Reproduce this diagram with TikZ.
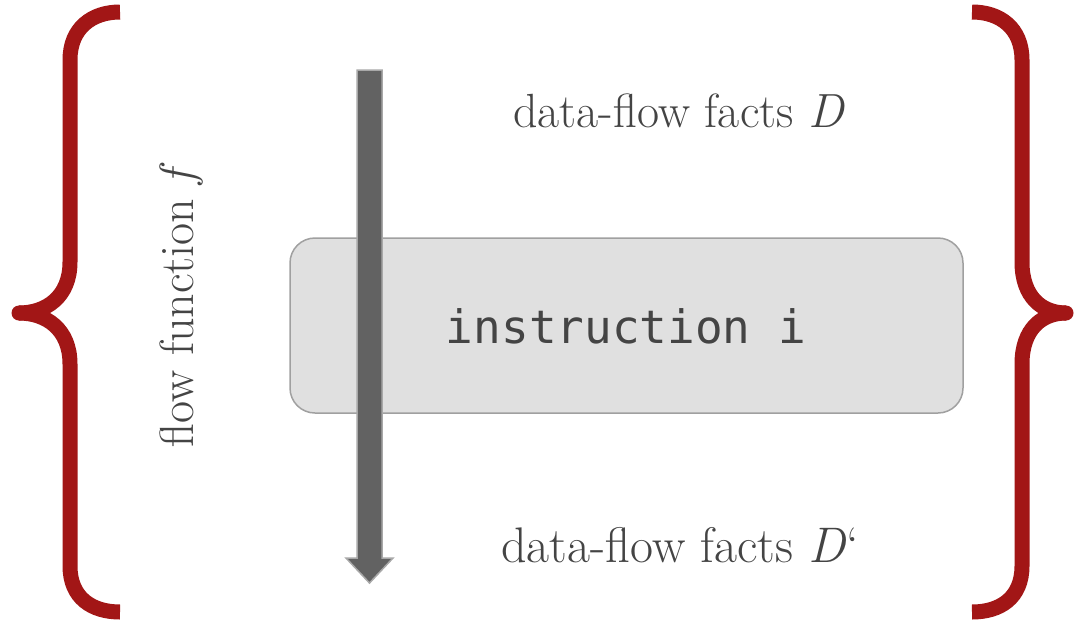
\documentclass[tikz,border=0pt]{standalone}
\usepackage{fontspec}
\newfontfamily\codefont{DejaVu Sans Mono}
\definecolor{bracered}{RGB}{162,22,22}
\definecolor{txtgray}{RGB}{68,68,68}
\definecolor{boxfill}{RGB}{224,224,224}
\definecolor{boxline}{RGB}{160,160,160}
\definecolor{arrowfill}{RGB}{98,98,98}
\definecolor{arrowline}{RGB}{168,168,168}
\tikzset{
  bracestyle/.style={draw=bracered, line width=15pt, line cap=butt},
  factlabel/.style={text=txtgray, inner sep=0pt, anchor=base},
  instrbox/.style={draw=boxline, fill=boxfill, line width=1.5pt, rounded corners=25pt, minimum width=673pt, minimum height=175pt, inner sep=0pt},
  blockarrow/.style={fill=arrowfill, draw=arrowline, line width=1.5pt, line join=miter}
}
\begin{document}
\begin{tikzpicture}[x=1pt,y=-1pt]
\fill[white] (0,0) rectangle (1074,627);
\useasboundingbox (0,0) rectangle (1074,627);

% left brace
\draw[bracestyle] (120,12) .. controls (92,12) and (70,28) .. (70,60) -- (70,262)
  .. controls (70,297) and (46,313) .. (19,313);
\draw[bracestyle] (19,313) .. controls (46,313) and (70,329) .. (70,364) -- (70,566)
  .. controls (70,598) and (92,612) .. (120,612);
\fill[bracered] (19,313) circle (7.5pt);

% right brace
\draw[bracestyle] (972,12) .. controls (1000,12) and (1022,28) .. (1022,60) -- (1022,262)
  .. controls (1022,297) and (1042,313) .. (1066,313);
\draw[bracestyle] (1066,313) .. controls (1042,313) and (1022,329) .. (1022,364) -- (1022,566)
  .. controls (1022,598) and (1000,612) .. (972,612);
\fill[bracered] (1066,313) circle (7.5pt);

% instruction box
\node[instrbox] (instr) at (626.5,325.5) {};
\node[anchor=base, inner sep=0pt, text=txtgray] (instrtext) at (626,343)
  {\codefont\fontsize{46}{50}\selectfont instruction i};

% block arrow
\draw[blockarrow] (357,70) -- (382,70) -- (382,558) -- (393,558) -- (369.5,583)
  -- (346,558) -- (357,558) -- cycle;

% labels
\node[factlabel] (factsD) at (679,127)
  {\fontsize{48}{52}\selectfont data-flow facts \textit{D}};
\node[factlabel] (factsDp) at (680,562)
  {\fontsize{50}{54}\selectfont data-flow facts \textit{D}\textquoteleft};
\node[factlabel, rotate=90] (flowf) at (193,305)
  {\fontsize{48}{52}\selectfont flow function \textit{f}};
\end{tikzpicture}
\end{document}
